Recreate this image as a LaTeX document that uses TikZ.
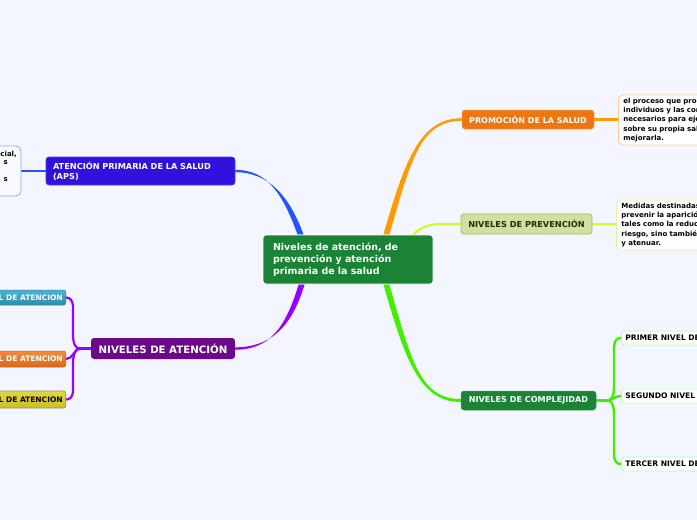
\documentclass[tikz,border=0pt]{standalone}
\usepackage{fontspec}
\setmainfont{DejaVu Sans}
\pgfdeclarelayer{bgfill}
\pgfdeclarelayer{conn}
\pgfsetlayers{bgfill,conn,main}
\definecolor{bgc}{HTML}{F3F6FE}
\definecolor{cgreen}{HTML}{1B8335}
\definecolor{apsblue}{HTML}{3311DD}
\definecolor{apsdraw}{HTML}{5533EE}
\definecolor{napurple}{HTML}{6A0A8A}
\definecolor{promor}{HTML}{EE7611}
\definecolor{promdraw}{HTML}{F59A4A}
\definecolor{prevfill}{HTML}{D1DFA2}
\definecolor{prevdraw}{HTML}{98BE5E}
\definecolor{prevtext}{HTML}{1E3300}
\definecolor{compdraw}{HTML}{3A9A50}
\definecolor{lblue}{HTML}{2255FF}
\definecolor{lpurp}{HTML}{9A00FF}
\definecolor{lorange}{HTML}{FF9A00}
\definecolor{lyg}{HTML}{CCFF22}
\definecolor{lgreen}{HTML}{44EE00}
\definecolor{kidgreen}{HTML}{AAFFAA}
\definecolor{apskfill}{HTML}{F8FAFF}
\definecolor{apskdraw}{HTML}{8FA8F0}
\definecolor{promkdraw}{HTML}{FFCC88}
\definecolor{prevkdraw}{HTML}{DDF59A}
\definecolor{tealtop}{HTML}{4DB3D2}
\definecolor{tealbot}{HTML}{2F8CAB}
\definecolor{tealdraw}{HTML}{2A7E9A}
\definecolor{ortop}{HTML}{F08C3A}
\definecolor{orbot}{HTML}{D86A18}
\definecolor{ordraw}{HTML}{C86012}
\definecolor{yeltop}{HTML}{E2D83A}
\definecolor{yelbot}{HTML}{CDBE22}
\definecolor{yeldraw}{HTML}{8A8A8A}
\begin{document}
\begin{tikzpicture}[x=1pt,y=-1pt,
  mainbox/.style={rounded corners=3pt, inner ysep=0pt, font=\bfseries},
  descbox/.style={rounded corners=5pt, fill=white, line width=0.8pt, anchor=west,
     text width=200pt, align=left, inner xsep=5pt, inner ysep=3pt,
     font=\bfseries\fontsize{7}{9.3}\selectfont},
  leftbox/.style={rounded corners=2pt, anchor=east, inner xsep=3pt, inner ysep=0pt,
     font=\bfseries\fontsize{7.5}{8}\selectfont},
  compkid/.style={rounded corners=3pt, fill=white, draw=kidgreen, line width=0.8pt,
     anchor=west, minimum height=14pt, text width=200pt, align=left, inner xsep=4pt, inner ysep=0pt,
     font=\bfseries\fontsize{7.6}{8}\selectfont},
  conn/.style={line width=3pt, line cap=round}
]
\begin{pgfonlayer}{bgfill}
\fill[bgc] (0,0) rectangle (697,520);
\end{pgfonlayer}
\useasboundingbox (0,0) rectangle (697,520);

% central node
\node[mainbox, fill=cgreen, draw=white, line width=0.8pt, text=white, text width=150pt, align=left,
  inner xsep=10pt, minimum height=49pt, font=\bfseries\fontsize{9.5}{12}\selectfont]
  (c) at (348,259.5) {Niveles de atención, de\\prevención y atención\\primaria de la salud};

% left side
\node[mainbox, fill=apsblue, draw=apsdraw, line width=0.6pt, text=white, text width=175pt, align=left,
  inner xsep=7pt, minimum height=28pt, font=\bfseries\fontsize{8.2}{9.5}\selectfont]
  (aps) at (140.5,171) {ATENCIÓN PRIMARIA DE LA SALUD\\(APS)};
\node[rounded corners=5pt, fill=apskfill, draw=apskdraw, line width=0.8pt,
  minimum width=61pt, minimum height=50pt, inner sep=0pt] (apsk) at (-9.5,171) {};
\node[anchor=east, inner sep=0pt, font=\bfseries\fontsize{7}{8}\selectfont] (t1) at (17,154) {cial,};
\node[anchor=east, inner sep=0pt, font=\bfseries\fontsize{7}{8}\selectfont] (t2) at (8,163) {s};
\node[anchor=east, inner sep=0pt, font=\bfseries\fontsize{7}{8}\selectfont] (t3) at (8,180) {s};

\node[mainbox, fill=napurple, text=white, minimum width=144pt, minimum height=21pt,
  font=\bfseries\fontsize{10.2}{12}\selectfont] (na) at (163,348.5) {NIVELES DE ATENCIÓN};

\node[leftbox, top color=tealtop, bottom color=tealbot, draw=tealdraw, line width=0.5pt,
  text=white, minimum height=15pt] (l1) at (66,297.5) {PRIMER NIVEL DE ATENCION};
\node[leftbox, top color=ortop, bottom color=orbot, draw=ordraw, line width=0.5pt,
  text=white, minimum height=16pt] (l2) at (66,359) {SEGUNDO NIVEL DE ATENCION};
\node[leftbox, top color=yeltop, bottom color=yelbot, draw=yeldraw, line width=0.6pt,
  text=black, minimum height=17pt] (l3) at (66,399.5) {TERCER NIVEL DE ATENCION};

% right side
\node[mainbox, fill=promor, draw=promdraw, line width=0.5pt, text=white, minimum width=132pt, minimum height=19pt,
  font=\bfseries\fontsize{8}{10}\selectfont] (prom) at (528,119.5) {PROMOCIÓN DE LA SALUD};
\node[descbox, draw=promkdraw] (promk) at (618,120)
  {el proceso que proporciona a los\\individuos y las comunidades los\\necesarios para ejercer un mayor\\sobre su propia salud y así\\mejorarla.};

\node[mainbox, fill=prevfill, draw=prevdraw, line width=0.8pt, text=prevtext, minimum width=131pt, minimum height=20pt,
  font=\bfseries\fontsize{8.2}{10}\selectfont] (prev) at (526.5,224) {NIVELES DE PREVENCIÓN};
\node[descbox, draw=prevkdraw] (prevk) at (616,225)
  {Medidas destinadas no solamente a\\prevenir la aparición de la\\tales como la reducción de factores de\\riesgo, sino también a detener su\\y atenuar.};

\node[mainbox, fill=cgreen, draw=compdraw, line width=0.5pt, text=white, minimum width=135pt, minimum height=19pt,
  font=\bfseries\fontsize{8.1}{10}\selectfont] (comp) at (528.5,400.5) {NIVELES DE COMPLEJIDAD};
\node[compkid] (k1) at (621,338) {PRIMER NIVEL DE COMPLEJIDAD};
\node[compkid] (k2) at (621,396) {SEGUNDO NIVEL DE COMPLEJIDAD};
\node[compkid] (k3) at (621,464) {TERCER NIVEL DE COMPLEJIDAD};

\coordinate (pj) at (80,348.5);
\coordinate (gj) at (607,400.5);

\begin{pgfonlayer}{conn}
% main connectors (tapered ribbons)
\fill[lblue] ([xshift=35pt]c.north west) .. controls (283,195) and (268,169.8) .. ([yshift=1.2pt]aps.east)
  -- ([yshift=-1.2pt]aps.east) .. controls (268,172.2) and (289,195) .. ([xshift=41pt]c.north west) -- cycle;
\fill[lpurp] ([xshift=36pt]c.south west) .. controls (285,330) and (268,349.7) .. ([yshift=-1.2pt]na.east)
  -- ([yshift=1.2pt]na.east) .. controls (268,347.3) and (291,330) .. ([xshift=42pt]c.south west) -- cycle;
\fill[lorange] ([xshift=-50pt]c.north east) .. controls (405,160) and (420,118.2) .. ([yshift=1.3pt]prom.west)
  -- ([yshift=-1.3pt]prom.west) .. controls (420,120.8) and (411,160) .. ([xshift=-44pt]c.north east) -- cycle;
\draw[conn, lyg, line width=2.2pt] ([xshift=-20pt]c.north east) .. controls (425,222) and (440,224) .. (prev.west);
\fill[lgreen] ([xshift=-50pt]c.south east) .. controls (405,360) and (420,402) .. ([yshift=-1.5pt]comp.west)
  -- ([yshift=1.5pt]comp.west) .. controls (420,399) and (411,360) .. ([xshift=-44pt]c.south east) -- cycle;
% children connectors
\draw[conn, lblue, line width=2.6pt] (aps.west) -- (aps.west -| apsk.east);
\draw[conn, lorange, line width=2.6pt] (prom.east) -- (prom.east -| promk.west);
\draw[conn, lyg, line width=2.8pt] (prev.east) -- (prev.east -| prevk.west);
\draw[conn, lpurp, line width=2.4pt] (na.west) -- (pj);
\draw[conn, lpurp, line width=2.2pt] (pj) .. controls (75,348.5) and (73,343) .. (73,334) -- (73,308) .. controls (73,300) and (70,297.5) .. (l1.east);
\draw[conn, lpurp, line width=2.2pt] (pj) .. controls (74,349) and (73,359) .. (l2.east);
\draw[conn, lpurp, line width=2.2pt] (pj) .. controls (75,348.5) and (73,355) .. (73,364) -- (73,390) .. controls (73,397) and (70,399.5) .. (l3.east);
\draw[conn, lgreen, line width=2.8pt] (comp.east) -- (gj);
\draw[conn, lgreen, line width=2.4pt] (gj) .. controls (612,400.5) and (614,396) .. (614,386) -- (614,349) .. controls (614,341) and (616,338) .. (k1.west);
\draw[conn, lgreen, line width=2.4pt] (gj) .. controls (613,400.5) and (614,396) .. (k2.west);
\draw[conn, lgreen, line width=2.4pt] (gj) .. controls (612,400.5) and (614,405) .. (614,415) -- (614,453) .. controls (614,461) and (616,464) .. (k3.west);
\end{pgfonlayer}
\end{tikzpicture}
\end{document}
